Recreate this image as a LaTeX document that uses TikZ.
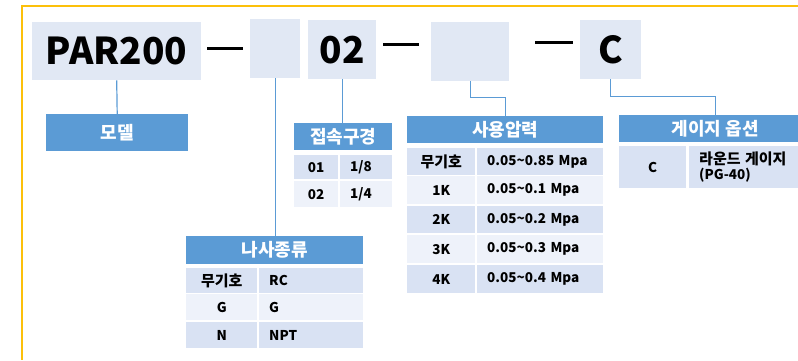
\documentclass[tikz,border=0pt]{standalone}
\usepackage{fontspec}
\newfontfamily\krfont{Noto Sans CJK KR}
\usetikzlibrary{positioning}
\definecolor{boxblue}{RGB}{225,232,244}
\definecolor{headblue}{RGB}{91,155,213}
\definecolor{rowdark}{RGB}{217,226,243}
\definecolor{rowlight}{RGB}{238,242,250}
\definecolor{framegold}{RGB}{252,192,10}
\newcommand\kbig{\fontsize{15}{16}\selectfont}

\begin{document}
\begin{tikzpicture}[x=1pt, y=-1pt,
    codebox/.style={fill=boxblue, inner sep=0pt, anchor=north west, font=\krfont\bfseries\fontsize{37}{37}\selectfont},
    dashbar/.style={fill=black, inner sep=0pt, minimum height=3pt},
    head/.style={fill=headblue, text=white, inner sep=0pt, anchor=north west, font=\krfont\bfseries\fontsize{18}{20}\selectfont},
    cellc/.style={inner sep=0pt, anchor=north west, align=center, font=\krfont\bfseries\fontsize{13.5}{15}\selectfont},
    celll/.style={cellc, inner xsep=10pt, align=left},
    conn/.style={draw=headblue, line width=1.2pt}]
  \useasboundingbox (0,0) rectangle (798,360);
  \clip (0,0) rectangle (798,360);
  % outer frame
  \fill[framegold] (20.5,4.5) rectangle (798,6.5);
  \fill[framegold] (20.5,4.5) rectangle (22.5,360);

  % Code boxes
  \node[codebox, minimum width=169pt, minimum height=58pt] (par) at (32,22) {PAR200};
  \node[codebox, minimum width=50pt, minimum height=59pt] (thread) at (250,19) {};
  \node[codebox, minimum width=68pt, minimum height=59pt] (port) at (308,20) {02};
  \node[codebox, minimum width=78pt, minimum height=59pt] (press) at (431,22) {};
  \node[codebox, minimum width=61pt, minimum height=59pt] (gauge) at (580,20) {C};
  \node[dashbar, minimum width=36pt] (d1) at (225,48) {};
  \node[dashbar, minimum width=36pt] (d2) at (401,44) {};
  \node[dashbar, minimum width=38pt] (d3) at (554,42) {};

  % Headers
  \node[head, minimum width=142pt, minimum height=37pt] (model) at (46,114) {모델};
  \node[head, minimum width=98pt, minimum height=27pt] (porth) at (294,123) {접속구경};
  \node[head, minimum width=196pt, minimum height=27pt] (pressh) at (407,116) {사용압력};
  \node[head, minimum width=192pt, minimum height=27pt] (gaugeh) at (619,115) {게이지 옵션};
  \node[head, minimum width=177pt, minimum height=28pt] (threadh) at (186,236) {나사종류};

  % 접속구경 table
  \node[cellc, fill=rowdark, minimum width=44pt, minimum height=24pt] (p1a) at (294,155) {01};
  \node[celll, fill=rowdark, text width=32pt, minimum height=24pt] (p1b) at (340,155) {1/8};
  \node[cellc, fill=rowlight, minimum width=44pt, minimum height=26pt] (p2a) at (294,181) {02};
  \node[celll, fill=rowlight, text width=32pt, minimum height=26pt] (p2b) at (340,181) {1/4};

  % 사용압력 table
  \node[cellc, fill=rowdark, minimum width=68pt, minimum height=27pt] (r1a) at (407,148) {\kbig 무기호};
  \node[celll, fill=rowdark, text width=106pt, minimum height=27pt] (r1b) at (477,148) {0.05\textasciitilde0.85 Mpa};
  \node[cellc, fill=rowlight, minimum width=68pt, minimum height=28pt] (r2a) at (407,176) {1K};
  \node[celll, fill=rowlight, text width=106pt, minimum height=28pt] (r2b) at (477,176) {0.05\textasciitilde0.1 Mpa};
  \node[cellc, fill=rowdark, minimum width=68pt, minimum height=27pt] (r3a) at (407,206) {2K};
  \node[celll, fill=rowdark, text width=106pt, minimum height=27pt] (r3b) at (477,206) {0.05\textasciitilde0.2 Mpa};
  \node[cellc, fill=rowlight, minimum width=68pt, minimum height=28pt] (r4a) at (407,235) {3K};
  \node[celll, fill=rowlight, text width=106pt, minimum height=28pt] (r4b) at (477,235) {0.05\textasciitilde0.3 Mpa};
  \node[cellc, fill=rowdark, minimum width=68pt, minimum height=28pt] (r5a) at (407,265) {4K};
  \node[celll, fill=rowdark, text width=106pt, minimum height=28pt] (r5b) at (477,265) {0.05\textasciitilde0.4 Mpa};

  % 게이지 옵션 table
  \node[cellc, fill=rowdark, minimum width=67pt, minimum height=42pt] (g1a) at (619,146) {C};
  \node[celll, fill=rowdark, text width=110pt, minimum height=42pt, font=\krfont\bfseries\fontsize{13.5}{14.5}\selectfont] (g1b) at (689,146) {{\kbig 라운드 게이지}\\(PG-40)};

  % 나사종류 table
  \node[cellc, fill=rowdark, minimum width=71pt, minimum height=25pt] (t1a) at (186,268) {\kbig 무기호};
  \node[celll, fill=rowdark, text width=84pt, minimum height=25pt] (t1b) at (259,268) {RC};
  \node[cellc, fill=rowlight, minimum width=71pt, minimum height=26pt] (t2a) at (186,294) {G};
  \node[celll, fill=rowlight, text width=84pt, minimum height=26pt] (t2b) at (259,294) {G};
  \node[cellc, fill=rowdark, minimum width=71pt, minimum height=26pt] (t3a) at (186,322) {N};
  \node[celll, fill=rowdark, text width=84pt, minimum height=26pt] (t3b) at (259,322) {NPT};

  % Connectors
  \draw[conn] (par.south) -- (model.north);
  \draw[conn] (thread.south) -- (thread.south |- threadh.north);
  \draw[conn] (port.south) -- (port.south |- porth.north);
  \draw[conn] (press.south) -- ++(0,16) -| (pressh.north);
  \draw[conn] (gauge.south) -- ++(0,17) -| (gaugeh.north);
\end{tikzpicture}
\end{document}
